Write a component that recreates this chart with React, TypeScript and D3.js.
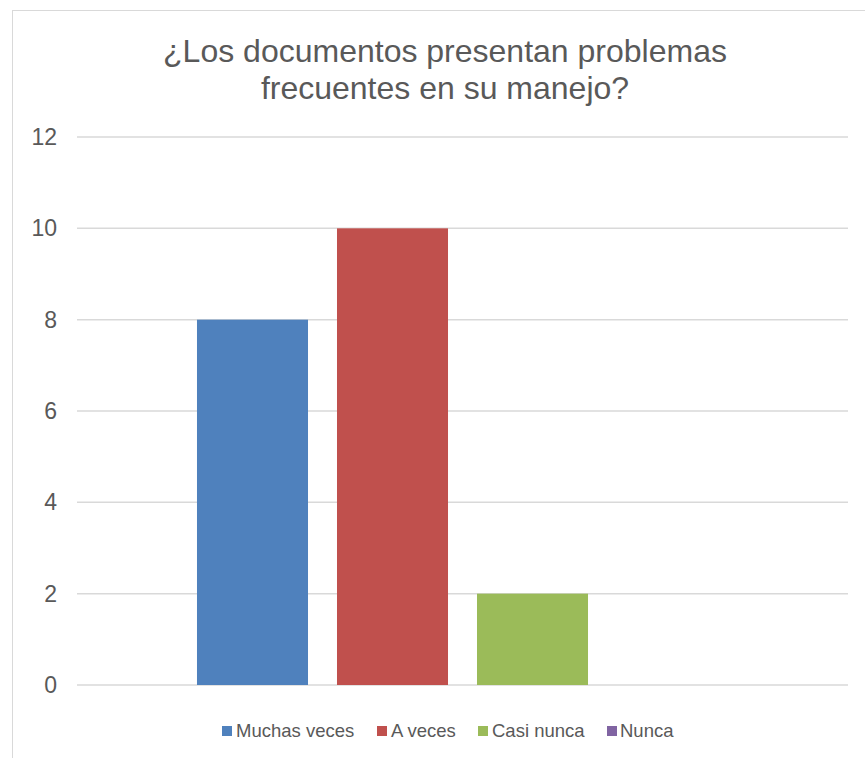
import React from "react";
import * as d3 from "d3";

const titleLines = ["¿Los documentos presentan problemas", "frecuentes en su manejo?"];
const seriesNames = ["Muchas veces", "A veces", "Casi nunca", "Nunca"];
const seriesValues = [8, 10, 2, 0];
const seriesColors = ["#4F81BD", "#C0504D", "#9BBB59", "#8064A2"];
const yTicks = [0, 2, 4, 6, 8, 10, 12];

const W = 865;
const H = 758;
const plotLeft = 77;
const plotRight = 848;
const plotTop = 137;
const plotBottom = 685;
const font = "'Liberation Sans', Arial, sans-serif";

export default function App() {
  const y = d3.scaleLinear().domain([0, 12]).range([plotBottom, plotTop]);
  const x = d3
    .scaleBand<string>()
    .domain(seriesNames)
    .range([plotLeft, plotRight])
    .paddingInner(0.207)
    .paddingOuter(0.857);

  const legendItems = [
    { x: 222, textX: 236 },
    { x: 377, textX: 391 },
    { x: 478, textX: 492 },
    { x: 607, textX: 620 },
  ];

  return (
    <svg
      width={W}
      height={H}
      style={{ position: "absolute", left: 0, top: 0, background: "#fff" }}
      fontFamily={font}
    >
      <rect x={0} y={0} width={W} height={H} fill="#fff" />
      <rect x={12.5} y={10.5} width={W + 20} height={H + 20} fill="#fff" stroke="#d9d9d9" strokeWidth={1} />
      {titleLines.map((t, i) => (
        <text key={i} x={445} y={62 + i * 37} textAnchor="middle" fontSize={32} fill="#595959">
          {t}
        </text>
      ))}
      {yTicks.map((t) => (
        <g key={t}>
          <line x1={plotLeft} x2={plotRight} y1={y(t)} y2={y(t)} stroke="#d9d9d9" strokeWidth={1.5} />
          <text x={57} y={y(t)} dy="0.35em" textAnchor="end" fontSize={23} fill="#595959">
            {t}
          </text>
        </g>
      ))}
      {seriesNames.map((s, i) => (
        <rect
          key={s}
          x={x(s)}
          y={y(seriesValues[i])}
          width={x.bandwidth()}
          height={y(0) - y(seriesValues[i])}
          fill={seriesColors[i]}
        />
      ))}
      {seriesNames.map((s, i) => (
        <g key={s}>
          <rect x={legendItems[i].x} y={726} width={10} height={10} fill={seriesColors[i]} />
          <text x={legendItems[i].textX} y={731} dy="0.35em" fontSize={18.5} fill="#595959">
            {s}
          </text>
        </g>
      ))}
    </svg>
  );
}
